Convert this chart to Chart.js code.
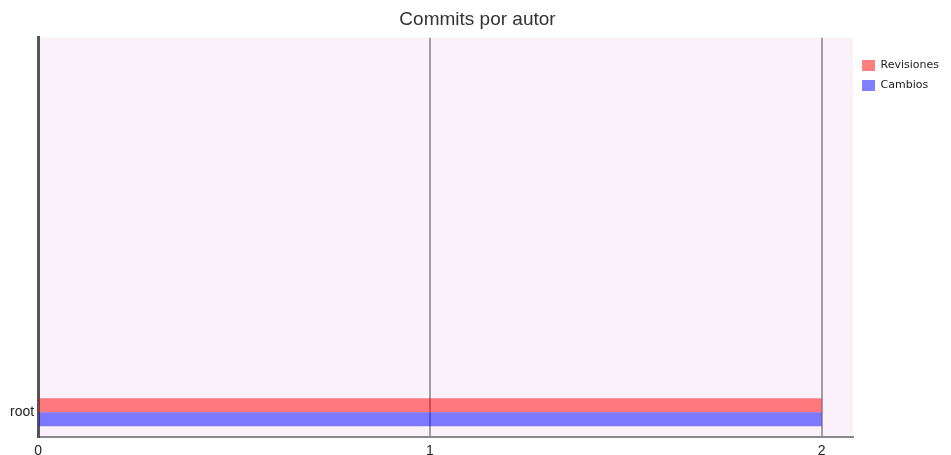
<!DOCTYPE html>
<html>
<head>
<meta charset="utf-8">
<script src="https://cdn.jsdelivr.net/npm/chart.js@4"></script>
<style>
    html, body { margin: 0; padding: 0; background: #fff; }
</style>
</head>
<body>
<canvas id="commitsChart" width="951" height="455"></canvas>
<script>
// datos del grafico
const authors = ['root'];
const revisiones = [2];
const cambios = [2];
const xTicks = [0, 1, 2];
const xMax = 2.08;
const slots = 8; // huecos fijos en el eje de autores

const yLabels = Array(slots - authors.length).fill('').concat(authors);

// fondo rosado solo en el area del grafico
const plotBackground = {
    id: 'plotBackground',
    beforeDraw(chart) {
        const {ctx, chartArea} = chart;
        ctx.save();
        ctx.fillStyle = '#fbf1fb';
        ctx.fillRect(chartArea.left, chartArea.top, chartArea.right - chartArea.left, chartArea.bottom - chartArea.top);
        ctx.restore();
    }
};

const ctx = document.getElementById('commitsChart');

new Chart(ctx, {
    type: 'bar',
    data: {
        labels: yLabels,
        datasets: [{
            label: 'Revisiones',
            data: authors.map((a, i) => ({x: revisiones[i], y: a})),
            backgroundColor: 'rgba(255, 0, 0, 0.5)',
            borderWidth: 0
        }, {
            label: 'Cambios',
            data: authors.map((a, i) => ({x: cambios[i], y: a})),
            backgroundColor: 'rgba(0, 0, 255, 0.5)',
            borderWidth: 0
        }]
    },
    options: {
        indexAxis: 'y',
        responsive: false,
        animation: false,
        categoryPercentage: 0.56,
        barPercentage: 1,
        layout: {
            padding: {left: 6, right: 2, top: 0, bottom: -11}
        },
        scales: {
            x: {
                type: 'linear',
                min: 0,
                max: xMax,
                afterBuildTicks: scale => {
                    scale.ticks = xTicks.map(v => ({value: v}));
                },
                grid: {
                    color: 'rgba(0, 0, 0, 0.35)',
                    lineWidth: 2,
                    drawTicks: false
                },
                border: {
                    color: '#888',
                    width: 2
                },
                ticks: {
                    color: '#222',
                    padding: 6,
                    font: {family: 'Liberation Sans', size: 14}
                }
            },
            y: {
                type: 'category',
                grid: {
                    display: false,
                    drawTicks: false
                },
                border: {
                    color: '#555',
                    width: 3
                },
                ticks: {
                    color: '#222',
                    padding: 4,
                    autoSkip: false,
                    font: {family: 'Liberation Sans', size: 14}
                }
            }
        },
        plugins: {
            title: {
                display: true,
                text: 'Commits por autor',
                color: '#333',
                font: {family: 'Liberation Sans', size: 19, weight: 'normal'},
                padding: {top: 8, bottom: 7}
            },
            legend: {
                position: 'right',
                align: 'start',
                title: {
                    display: true,
                    text: '',
                    font: {size: 10},
                    padding: {top: 39, bottom: 0}
                },
                labels: {
                    boxWidth: 13,
                    boxHeight: 11,
                    padding: 9,
                    color: '#222',
                    font: {family: 'DejaVu Sans', size: 11}
                }
            },
            tooltip: {enabled: false}
        }
    },
    plugins: [plotBackground]
});
</script>
</body>
</html>
